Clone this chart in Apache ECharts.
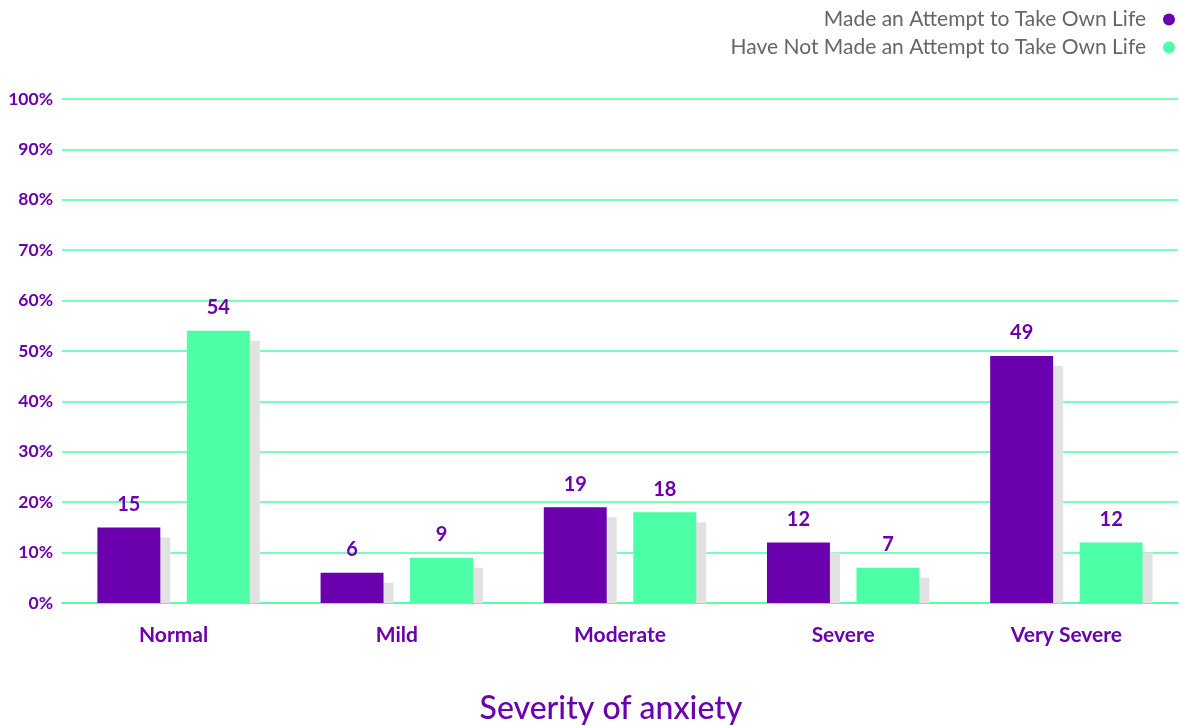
<!DOCTYPE html>
<html>
<head>
<meta charset="utf-8">
<script src="https://cdn.jsdelivr.net/npm/echarts@6/dist/echarts.min.js"></script>
<style>html,body{margin:0;padding:0;background:#fff}#c{width:1180px;height:726px}</style>
</head>
<body>
<div id="c"></div>
<script>
const categories = ['Normal', 'Mild', 'Moderate', 'Severe', 'Very Severe'];
const seriesNames = ['Made an Attempt to Take Own Life', 'Have Not Made an Attempt to Take Own Life'];
const attempted = [15, 6, 19, 12, 49];
const notAttempted = [54, 9, 18, 7, 12];
const yTicks = [0, 10, 20, 30, 40, 50, 60, 70, 80, 90, 100];

const PURPLE = '#6a00ae';
const GREEN = '#4dffa6';
const SHADOW = '#e2e2e2';
const FONT = 'Lato, "Noto Sans", sans-serif';

function makeRender(offsetFrac, color) {
  return function (params, api) {
    const cat = api.value(0), val = api.value(1);
    const top = api.coord([cat, val]);
    const base = api.coord([cat, 0]);
    const band = api.size([1, 0])[0];
    const w = band * 0.282;
    const cx = top[0] + offsetFrac * band;
    const h = base[1] - top[1];
    return {
      type: 'group',
      children: [
        { type: 'rect', shape: { x: cx - w / 2 + 10, y: top[1] + 10, width: w, height: Math.max(0, h - 10) }, style: { fill: SHADOW } },
        { type: 'rect', shape: { x: cx - w / 2, y: top[1], width: w, height: h }, style: { fill: color } },
        { type: 'text', style: { text: String(val), x: cx, y: top[1] - 23, align: 'center', verticalAlign: 'middle', fill: PURPLE, fontSize: 20, fontWeight: 'bold', fontFamily: FONT } }
      ]
    };
  };
}

const chart = echarts.init(document.getElementById('c'));
chart.setOption({
  animation: false,
  backgroundColor: '#fff',
  legend: {
    orient: 'vertical', right: 0, top: 4, align: 'right', icon: 'circle',
    itemWidth: 12, itemHeight: 12, itemGap: 7,
    textStyle: { color: '#666', fontSize: 21, fontFamily: FONT, padding: [0, 12, 0, 0] },
    data: seriesNames
  },
  grid: { left: 62, right: 2, top: 99, bottom: 123, outerBoundsMode: 'none', containLabel: false },
  xAxis: {
    type: 'category', data: categories,
    name: 'Severity of anxiety', nameLocation: 'middle', nameGap: 90,
    nameTextStyle: { color: PURPLE, fontSize: 32, fontFamily: FONT, fontWeight: 500, padding: [0, 18, 0, 0] },
    axisLine: { lineStyle: { color: GREEN, width: 1.5 } },
    axisTick: { inside: true, length: 11, lineStyle: { color: GREEN, width: 1.5 } },
    axisLabel: { color: PURPLE, fontSize: 21, fontWeight: 'bold', fontFamily: FONT, margin: 22 }
  },
  yAxis: {
    type: 'value', min: 0, max: 100, interval: 10,
    axisLine: { show: false }, axisTick: { show: false },
    axisLabel: { color: PURPLE, fontSize: 17.5, fontWeight: 'bold', fontFamily: FONT, margin: 9, formatter: v => yTicks.includes(v) ? v + '%' : '' },
    splitLine: { lineStyle: { color: GREEN, width: 1.5 } }
  },
  series: [
    { name: seriesNames[0], type: 'custom', itemStyle: { color: PURPLE }, renderItem: makeRender(-0.2005, PURPLE), data: attempted.map((v, i) => [i, v]), encode: { x: 0, y: 1 } },
    { name: seriesNames[1], type: 'custom', itemStyle: { color: GREEN }, renderItem: makeRender(0.2005, GREEN), data: notAttempted.map((v, i) => [i, v]), encode: { x: 0, y: 1 } }
  ]
});
</script>
</body>
</html>
